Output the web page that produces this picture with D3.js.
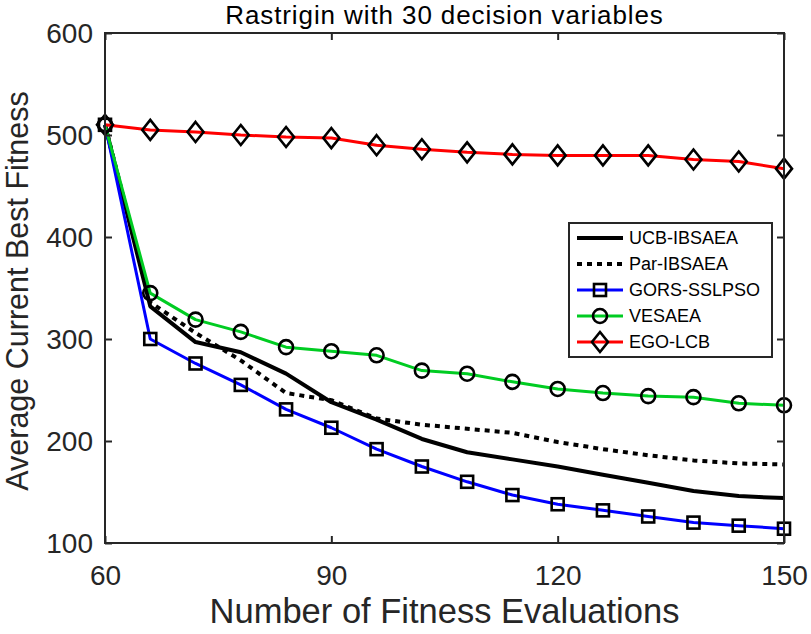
<!DOCTYPE html>
<html>
<head>
<meta charset="utf-8">
<script src="https://cdn.jsdelivr.net/npm/d3@7"></script>
<style>
	body { margin: 0; background: #fff; }
	svg text { font-family: "Liberation Sans", Arial, Helvetica, sans-serif; }
</style>
</head>
<body>
<svg id="chart" width="811" height="634"></svg>
<script>
// evaluations (x) shared by all series
const evals = [60, 66, 72, 78, 84, 90, 96, 102, 108, 114, 120, 126, 132, 138, 144, 150];

// average current best fitness per algorithm
const ucbIbsaea  = [510, 332, 297, 287, 266, 238, 221, 202, 189, 182, 175, 167, 159, 151, 146, 144];
const parIbsaea  = [510, 336, 306, 279, 247, 240, 222, 216, 212, 208, 199, 192, 186, 181, 178, 177];
const gorsSslpso = [510, 300, 276, 255, 231, 213, 192, 175, 160, 147, 138, 132, 126, 120, 117, 114];
const vesaea     = [510, 345, 319, 307, 292, 288, 284, 269, 266, 258, 251, 247, 244, 243, 237, 235];
const egoLcb     = [510, 505, 503, 500, 498, 497, 490, 486, 483, 481, 480, 480, 480, 476, 474, 467];

const xTicks = [60, 90, 120, 150];
const yTicks = [100, 200, 300, 400, 500, 600];

const seriesNames = ['UCB-IBSAEA', 'Par-IBSAEA', 'GORS-SSLPSO', 'VESAEA', 'EGO-LCB'];

(function() {
	const margin = {top: 33, right: 27, bottom: 91, left: 105};
	const width = 811 - margin.left - margin.right;
	const height = 634 - margin.top - margin.bottom;
	const axisColor = '#262626';

	const svg = d3.select('#chart');
	const g = svg.append('g')
		.attr('transform', `translate(${margin.left},${margin.top})`);

	const x = d3.scaleLinear().domain([60, 150]).range([0, width]);
	const y = d3.scaleLinear().domain([100, 600]).range([height, 0]);

	// シリーズ定義
	const series = [
		{name: seriesNames[0], values: ucbIbsaea, color: '#000000', width: 4, dash: null, marker: null},
		{name: seriesNames[1], values: parIbsaea, color: '#000000', width: 4, dash: '5,5', marker: null},
		{name: seriesNames[2], values: gorsSslpso, color: '#0000ff', width: 3, dash: null, marker: 'square'},
		{name: seriesNames[3], values: vesaea, color: '#00cc22', width: 3, dash: null, marker: 'circle'},
		{name: seriesNames[4], values: egoLcb, color: '#ff0000', width: 3, dash: null, marker: 'diamond'}
	];

	const line = d3.line()
		.x(d => x(d[0]))
		.y(d => y(d[1]));

	function drawMarker(sel, type, cx, cy) {
		if (type === 'square') {
			sel.append('rect')
				.attr('x', cx - 6).attr('y', cy - 6)
				.attr('width', 12).attr('height', 12)
				.attr('fill', 'none').attr('stroke', '#000').attr('stroke-width', 2.6);
		} else if (type === 'circle') {
			sel.append('circle')
				.attr('cx', cx).attr('cy', cy).attr('r', 7)
				.attr('fill', 'none').attr('stroke', '#000').attr('stroke-width', 2.6);
		} else if (type === 'diamond') {
			sel.append('path')
				.attr('d', `M${cx},${cy - 10}L${cx + 8},${cy}L${cx},${cy + 10}L${cx - 8},${cy}Z`)
				.attr('fill', 'none').attr('stroke', '#000').attr('stroke-width', 2.6);
		}
	}

	// 系列描画
	series.forEach(s => {
		const pts = evals.map((e, i) => [e, s.values[i]]);
		g.append('path')
			.datum(pts)
			.attr('d', line)
			.attr('fill', 'none')
			.attr('stroke', s.color)
			.attr('stroke-width', s.width)
			.attr('stroke-linejoin', 'round')
			.attr('stroke-dasharray', s.dash);
		if (s.marker) {
			const mg = g.append('g');
			pts.forEach(p => drawMarker(mg, s.marker, x(p[0]), y(p[1])));
		}
	});

	// 軸（MATLAB風ボックス、内向き目盛）
	const xAxisB = g.append('g')
		.attr('transform', `translate(0,${height})`)
		.call(d3.axisBottom(x).tickValues(xTicks).tickSize(-7).tickPadding(22));
	const xAxisT = g.append('g')
		.call(d3.axisTop(x).tickValues(xTicks).tickSize(-7).tickFormat(''));
	const yAxisL = g.append('g')
		.call(d3.axisLeft(y).tickValues(yTicks).tickSize(-7).tickPadding(12));
	const yAxisR = g.append('g')
		.attr('transform', `translate(${width},0)`)
		.call(d3.axisRight(y).tickValues(yTicks).tickSize(-7).tickFormat(''));

	[xAxisB, xAxisT, yAxisL, yAxisR].forEach(a => {
		a.select('.domain').attr('stroke', axisColor).attr('stroke-width', 2).attr('d', null);
		a.selectAll('.tick line').attr('stroke', axisColor).attr('stroke-width', 2);
		a.selectAll('.tick text').attr('fill', axisColor).style('font-size', '28px');
	});
	g.append('rect')
		.attr('width', width).attr('height', height)
		.attr('fill', 'none').attr('stroke', axisColor).attr('stroke-width', 2);
	xAxisB.selectAll('.tick text').attr('dy', '0.71em');
	yAxisL.selectAll('.tick text').attr('dy', '0.35em');

	// タイトル・軸ラベル
	svg.append('text')
		.attr('x', margin.left + width / 2).attr('y', 23.5)
		.attr('text-anchor', 'middle')
		.style('font-size', '26px').style('letter-spacing', '0.9px').attr('fill', '#000')
		.text('Rastrigin with 30 decision variables');

	svg.append('text')
		.attr('x', margin.left + width / 2).attr('y', 623)
		.attr('text-anchor', 'middle')
		.style('font-size', '34.5px').attr('fill', axisColor)
		.text('Number of Fitness Evaluations');

	svg.append('text')
		.attr('transform', `translate(28,${margin.top + height / 2 + 3}) rotate(-90)`)
		.attr('text-anchor', 'middle')
		.style('font-size', '30.5px').attr('fill', axisColor)
		.text('Average Current Best Fitness');

	// 凡例
	const legend = svg.append('g').attr('transform', 'translate(569,223)');
	legend.append('rect')
		.attr('width', 203).attr('height', 134)
		.attr('fill', '#fff').attr('stroke', axisColor).attr('stroke-width', 2);
	series.forEach((s, i) => {
		const ly = 15 + i * 26;
		const item = legend.append('g');
		item.append('line')
			.attr('x1', 8).attr('x2', 54).attr('y1', ly).attr('y2', ly)
			.attr('stroke', s.color).attr('stroke-width', s.width)
			.attr('stroke-dasharray', s.dash);
		if (s.marker) drawMarker(item, s.marker, 31, ly);
		item.append('text')
			.attr('x', 60).attr('y', ly).attr('dy', '0.35em')
			.style('font-size', '18px').attr('fill', '#000')
			.text(s.name);
	});
})();
</script>
</body>
</html>
